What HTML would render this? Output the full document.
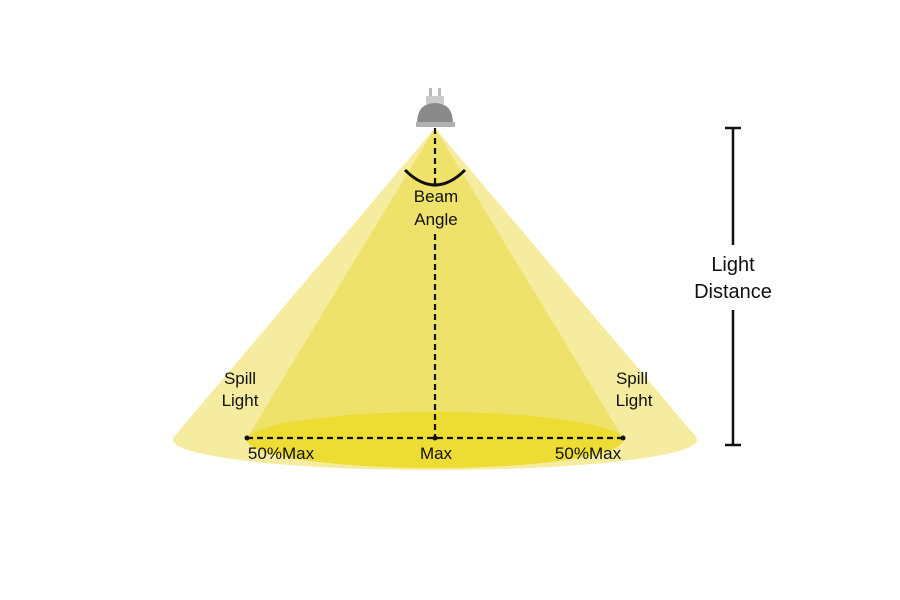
<!DOCTYPE html>
<html><head><style>body{margin:0;background:#fff}svg{display:block}</style></head><body>
<svg width="900" height="600" viewBox="0 0 900 600" xmlns="http://www.w3.org/2000/svg" font-family="Liberation Sans, sans-serif">
<rect width="900" height="600" fill="#fff"/>
<ellipse cx="435" cy="440" rx="262" ry="30" fill="#f6ec9f"/>
<polygon points="435,128 173,438 697,438" fill="#f6ec9f"/>
<polygon points="435,128 247,438 623,438" fill="#efe26a"/>
<ellipse cx="435" cy="440" rx="188" ry="28" fill="#ecdc33"/>
<polygon points="247,438 623,438 620,445 250,445" fill="#ecdc33"/>
<rect x="429" y="88" width="3" height="10" fill="#bbb"/>
<rect x="438" y="88" width="3" height="10" fill="#bbb"/>
<rect x="426" y="96" width="18" height="8" fill="#ccc"/>
<path d="M417,124 Q417,103 435,103 Q453,103 453,124 Z" fill="#8a8a8a"/>
<rect x="416" y="122" width="39" height="5" fill="#b0b0b0"/>
<line x1="435" y1="128" x2="435" y2="184" stroke="#111" stroke-width="2.2" stroke-dasharray="6,4"/>
<line x1="435" y1="234" x2="435" y2="438" stroke="#111" stroke-width="2.2" stroke-dasharray="6,4"/>
<path d="M405,170 Q435,200 465,170" fill="none" stroke="#111" stroke-width="3"/>
<line x1="247" y1="438" x2="623" y2="438" stroke="#111" stroke-width="2.2" stroke-dasharray="6,4"/>
<circle cx="247" cy="438" r="2.5" fill="#111"/><circle cx="435" cy="438" r="2.5" fill="#111"/><circle cx="623" cy="438" r="2.5" fill="#111"/>
<g font-size="17" fill="#111" text-anchor="middle">
<text x="436" y="202">Beam</text><text x="436" y="225">Angle</text>
<text x="240" y="384">Spill</text><text x="240" y="406">Light</text>
<text x="632" y="384">Spill</text><text x="634" y="406">Light</text>
<text x="281" y="459">50%Max</text><text x="436" y="459">Max</text><text x="588" y="459">50%Max</text>
<text x="733" y="271" font-size="20">Light</text><text x="733" y="298" font-size="20">Distance</text>
</g>
<g stroke="#111" stroke-width="2.5">
<line x1="733" y1="128" x2="733" y2="245"/><line x1="733" y1="310" x2="733" y2="445"/>
<line x1="725" y1="128" x2="741" y2="128"/><line x1="725" y1="445" x2="741" y2="445"/>
</g>
</svg>
</body></html>
